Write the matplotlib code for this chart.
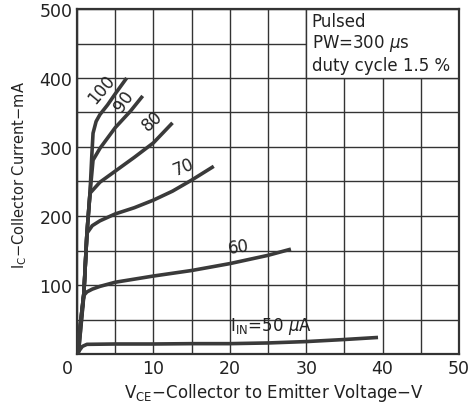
import numpy as np
import matplotlib
matplotlib.use("Agg")
import matplotlib.pyplot as plt
from matplotlib.patches import Rectangle

# base current curves (V_CE in V, I_C in mA)
v50 = [0, 0.3, 0.7, 1.3, 5, 10, 15, 20, 25, 30, 35, 39.4]
i50 = [0, 5, 11, 14, 14.5, 14.5, 15, 15, 16, 18, 21, 24]

v60 = [0, 0.2, 0.9, 1.3, 2, 3, 5, 10, 15, 20, 25, 28]
i60 = [0, 3, 85, 90, 94, 98, 104, 113, 121, 131, 143, 152]

v70 = [0, 0.2, 0.9, 1.3, 2, 3, 5, 7.5, 10, 12.5, 15, 17.9]
i70 = [0, 3, 88, 175, 186, 193, 203, 212, 223, 236, 252, 272]

v80 = [0, 0.9, 1.3, 1.7, 3, 5, 7.5, 10, 12.5]
i80 = [0, 88, 175, 233, 249, 265, 285, 306, 335]

v90 = [0, 0.9, 1.3, 1.7, 2.1, 3, 5, 7, 8.6]
i90 = [0, 88, 175, 233, 281, 298, 328, 352, 374]

v100 = [0, 0.9, 1.3, 1.7, 1.95, 2.1, 2.5, 3, 4, 5, 6.5]
i100 = [0, 88, 175, 233, 290, 320, 337, 347, 361, 377, 400]

curve_labels = ["100", "90", "80", "70", "60"]
label_v = [3.2, 6.1, 9.8, 14.0, 21.2]
label_i = [383, 366, 337, 271, 154]
label_rot = [50, 55, 42, 22, 8]

xticks = [0, 10, 20, 30, 40, 50]
yticks = [100, 200, 300, 400, 500]

ink = "#333333"
plt.rcParams["font.family"] = ["DejaVu Sans"]

fig = plt.figure(figsize=(4.71, 4.07), dpi=100)
ax = fig.add_axes([77 / 471, 1 - 354 / 407, 382 / 471, 345 / 407])

ax.set_xlim(0, 50)
ax.set_ylim(0, 500)
ax.set_xticks(np.arange(0, 51, 5))
ax.set_yticks(np.arange(0, 501, 50))
ax.set_xticklabels([])
ax.set_yticklabels([])
ax.tick_params(length=0)
ax.set_axisbelow(True)
ax.grid(True, color=ink, linewidth=1.0)
for s in ax.spines.values():
    s.set_color(ink)
    s.set_linewidth(1.6)

# white note box in upper right corner
ax.add_patch(Rectangle((30, 400), 20, 100, facecolor="white",
                       edgecolor=ink, linewidth=1.0, zorder=1))
ax.text(30.7, 481, "Pulsed", fontsize=12, color="#222222", va="center")
ax.text(30.7, 450, "PW=300 $\\mu$s", fontsize=12, color="#222222", va="center")
ax.text(30.7, 418, "duty cycle 1.5 %", fontsize=12, color="#222222", va="center")

for v, i in [(v50, i50), (v60, i60), (v70, i70), (v80, i80), (v90, i90), (v100, i100)]:
    ax.plot(v, i, color="#3a3a3a", linewidth=2.6, solid_capstyle="butt",
            solid_joinstyle="round", zorder=3)

for t, x, y, r in zip(curve_labels, label_v, label_i, label_rot):
    ax.text(x, y, t, fontsize=12, rotation=r, color="#222222",
            ha="center", va="center", rotation_mode="anchor", zorder=4)

ax.text(20.0, 40, "I$_{\\mathregular{IN}}$=50 $\\mu$A", fontsize=12,
        color="#222222", va="center", ha="left", zorder=4)

# tick labels
for x in xticks:
    ax.text(x - (1.2 if x == 0 else 0), -9, str(x), fontsize=12.5,
            color="#222222", ha="center", va="top")
for y in yticks:
    ax.text(-0.6, y - 4, str(y), fontsize=12.5, color="#222222",
            ha="right", va="center")

fig.text(274 / 471, 1 - 393 / 407,
         "V$_{\\mathregular{CE}}$$-$Collector to Emitter Voltage$-$V",
         fontsize=12, color="#222222", ha="center", va="center")
fig.text(20 / 471, 1 - 175 / 407,
         "I$_{\\mathregular{C}}$$-$Collector Current$-$mA",
         fontsize=10.5, color="#222222", ha="center", va="center", rotation=90)

fig.savefig("out.png", dpi=100)
